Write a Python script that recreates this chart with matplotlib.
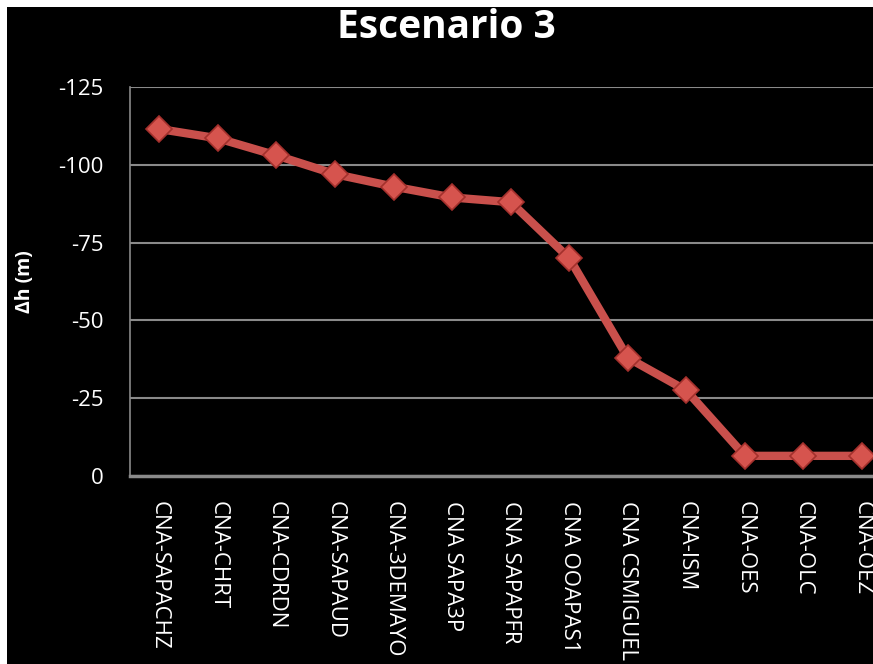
"""Escenario 3 - drawdown per station (recreated chart)."""

import matplotlib
matplotlib.use("Agg")
import matplotlib.pyplot as plt
from matplotlib.patches import Rectangle

stations = ["CNA-SAPACHZ", "CNA-CHRT", "CNA-CDRDN", "CNA-SAPAUD", "CNA-3DEMAYO",
            "CNA SAPA3P", "CNA SAPAPFR", "CNA OOAPAS1", "CNA CSMIGUEL", "CNA-ISM",
            "CNA-OES", "CNA-OLC", "CNA-OEZ"]
delta_h = [-111.5, -108.5, -103, -97, -93, -89.5, -88, -70, -38, -27.5, -6.5, -6.5, -6.5]
y_ticks = [0, -25, -50, -75, -100, -125]

plt.rcParams.update({
    "font.family": ["Open Sans", "DejaVu Sans"],
    "text.color": "white",
    "axes.labelcolor": "white",
    "xtick.color": "white",
    "ytick.color": "white",
})

fig = plt.figure(figsize=(8.73, 6.64), dpi=100, facecolor="black")
ax = fig.add_axes([0.149, 0.283, 0.872, 0.586], facecolor="black")

x = range(len(stations))
ax.plot(x, delta_h, color="#C9504C", linewidth=6, solid_joinstyle="round",
        marker="D", markersize=13, markerfacecolor="#D6544E",
        markeredgecolor="#A3302C", markeredgewidth=1.2, zorder=3)

ax.set_ylim(0, -125)
ax.set_yticks(y_ticks)
ax.set_yticklabels([str(v) for v in y_ticks], fontsize=16)
ax.set_xlim(-0.5, len(stations) - 0.5)
ax.set_xticks(list(x))
ax.set_xticklabels(stations, rotation=-90, fontsize=16, ha="center", va="top")
ax.tick_params(axis="both", length=0)
ax.tick_params(axis="x", pad=18)
ax.tick_params(axis="y", pad=19)

ax.grid(axis="y", color="#8a8a8a", linewidth=1.5)
ax.set_axisbelow(True)
for side in ["top", "right"]:
    ax.spines[side].set_visible(False)
ax.spines["left"].set_color("#8a8a8a")
ax.spines["left"].set_linewidth(1.2)
ax.spines["bottom"].set_color("#8a8a8a")
ax.spines["bottom"].set_linewidth(2.5)

ax.set_ylabel("\u0394h (m)", fontsize=14, fontweight="bold", labelpad=17)
fig.text(0.511, 0.958, "Escenario 3", ha="center", va="center",
         fontsize=28, fontweight="bold", color="white")

# thin white border along top and left edges of the screenshot
fig.patches.append(Rectangle((0, 1 - 7 / 664), 1, 7 / 664, transform=fig.transFigure,
                             facecolor="white", edgecolor="none"))
fig.patches.append(Rectangle((0, 0), 7 / 873, 1, transform=fig.transFigure,
                             facecolor="white", edgecolor="none"))

fig.savefig("out.png", dpi=100, facecolor="black")
